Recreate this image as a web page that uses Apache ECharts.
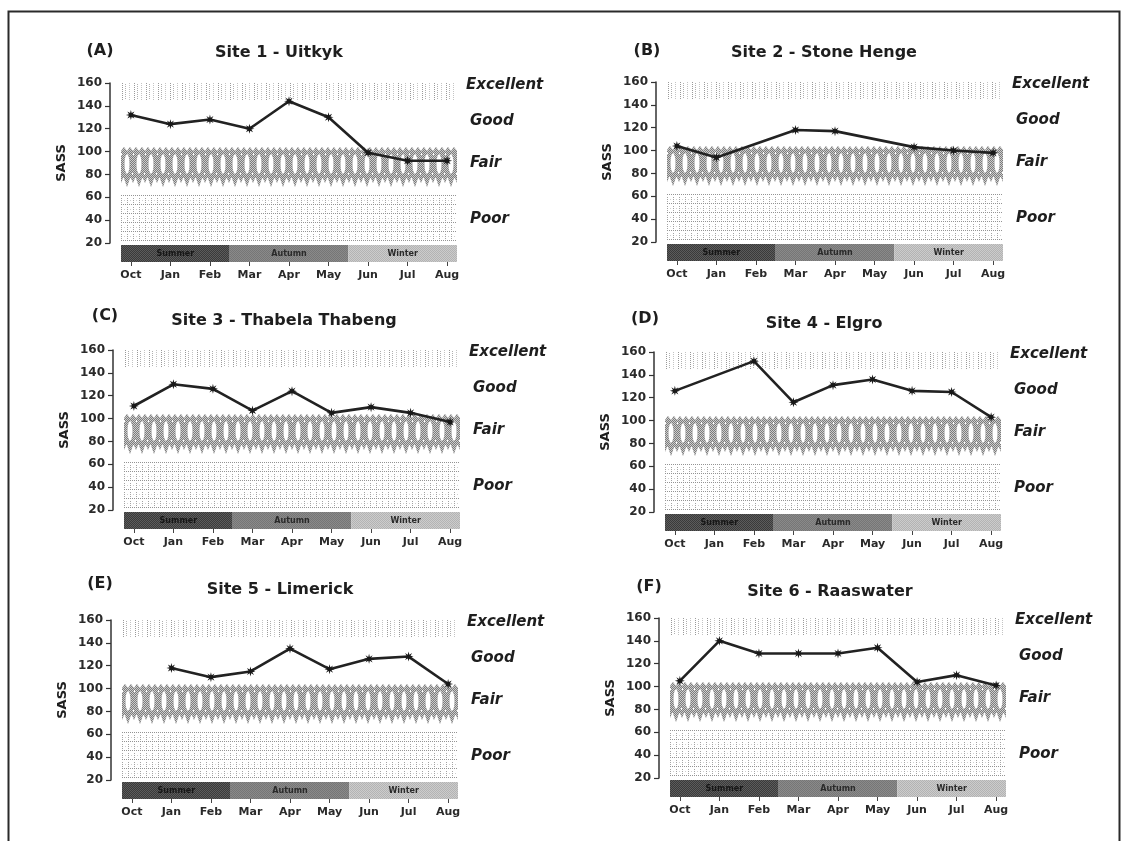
<!DOCTYPE html>
<html>
<head>
<meta charset="utf-8">
<script src="https://cdn.jsdelivr.net/npm/echarts@6/dist/echarts.min.js"></script>
<style>
  html, body { margin: 0; padding: 0; background: #fff; }
  #chart { width: 1129px; height: 841px; }
</style>
</head>
<body>
<div id="chart"></div>
<script>
// ---- data ----
const months = ['Oct', 'Jan', 'Feb', 'Mar', 'Apr', 'May', 'Jun', 'Jul', 'Aug'];
const panelLetters = ['(A)', '(B)', '(C)', '(D)', '(E)', '(F)'];
const siteNames = ['Site 1 - Uitkyk', 'Site 2 - Stone Henge', 'Site 3 - Thabela Thabeng',
                   'Site 4 - Elgro', 'Site 5 - Limerick', 'Site 6 - Raaswater'];
// SASS scores per month (null = no sample)
const site1 = [132, 124, 128, 120, 144, 130, 99, 92, 92];
const site2 = [104, 94, null, 118, 117, null, 103, 100, 98];
const site3 = [111, 130, 126, 107, 124, 105, 110, 105, 97];
const site4 = [126, null, 152, 116, 131, 136, 126, 125, 103];
const site5 = [null, 118, 110, 115, 135, 117, 126, 128, 104];
const site6 = [105, 140, 129, 129, 129, 134, 104, 110, 101];
const sites = [site1, site2, site3, site4, site5, site6];

// water-quality classes: band bottom / top in SASS units, and label height
const qualityNames = ['Poor', 'Fair', 'Good', 'Excellent'];
const qualityLow   = [21, 66, 105, 145];
const qualityHigh  = [62, 104, 140, 160];
const qualityLabelAt = [41, 90, 127, 158];

// seasons: first and last month index covered
const seasonNames = ['Summer', 'Autumn', 'Winter'];
const seasonFirst = [0, 3, 6];
const seasonLast  = [2, 5, 8];

// ---- layout ----
const panelPos = [
  { left: 121, top: 83,  titleX: 279, titleY: 45,  letterX: 100, letterY: 43 },
  { left: 667, top: 82,  titleX: 824, titleY: 45,  letterX: 647, letterY: 43 },
  { left: 124, top: 350, titleX: 284, titleY: 313, letterX: 105, letterY: 308 },
  { left: 665, top: 352, titleX: 824, titleY: 316, letterX: 645, letterY: 311 },
  { left: 122, top: 620, titleX: 280, titleY: 582, letterX: 100, letterY: 576 },
  { left: 670, top: 618, titleX: 830, titleY: 584, letterX: 649, letterY: 579 }
];
const PLOT_W = 336, PLOT_H = 160, BAR_GAP = 2, BAR_H = 17;
const FONT = '"DejaVu Sans", "Liberation Sans", sans-serif';
const INK = '#1e1e1e';

// ---- fill textures ----
function makeTile(w, h, draw) {
  const c = document.createElement('canvas');
  c.width = w; c.height = h;
  const g = c.getContext('2d');
  draw(g);
  return c;
}
function halftone(g, w, h, light) {
  const img = g.getImageData(0, 0, w, h);
  const d = img.data;
  for (let y = 0; y < h; y++) {
    for (let x = 0; x < w; x++) {
      const i = (y * w + x) * 4;
      if (d[i + 3] > 60 && (x + y) % 2 === 0) {
        d[i] = d[i + 1] = d[i + 2] = light; d[i + 3] = 255;
      }
    }
  }
  g.putImageData(img, 0, 0);
}
function dots(g, list, color) {
  g.fillStyle = color;
  list.forEach(p => g.fillRect(p[0], p[1], 1, 1));
}

// "Fair": columns of hatched hourglasses with white ovals
const fairTile = makeTile(12, 44, g => {
  g.fillStyle = '#7c7c7c';
  g.beginPath();
  g.moveTo(0, 4); g.lineTo(3, 0); g.lineTo(6, 4); g.lineTo(9, 0); g.lineTo(12, 4);
  g.lineTo(12, 31); g.lineTo(0, 31); g.closePath(); g.fill();
  g.globalCompositeOperation = 'destination-out';
  g.beginPath(); g.ellipse(6, 17, 2.6, 10, 0, 0, Math.PI * 2); g.fill();
  g.fillRect(0, 31, 12, 13);
  g.fillRect(0, 6, 1, 2); g.fillRect(11, 26, 1, 2);
  g.globalCompositeOperation = 'source-over';
  g.fillStyle = '#7c7c7c';
  g.beginPath(); g.moveTo(3, 31); g.lineTo(9, 31); g.lineTo(6, 40); g.closePath(); g.fill();
  g.beginPath(); g.moveTo(-2, 31); g.lineTo(2, 31); g.lineTo(0, 36); g.closePath(); g.fill();
  g.beginPath(); g.moveTo(10, 31); g.lineTo(14, 31); g.lineTo(12, 36); g.closePath(); g.fill();
  halftone(g, 12, 44, 205);
});
// "Excellent": sparse vertical dotted strokes
const excellentTile = makeTile(12, 4, g => {
  dots(g, [[1, 0], [1, 2]], '#9a9a9a');
  dots(g, [[4, 1], [4, 3]], '#b0b0b0');
  dots(g, [[8, 0], [8, 2]], '#c4c4c4');
});
// "Poor": dotted grid
const poorTile = makeTile(6, 9, g => {
  dots(g, [[0, 0], [2, 0], [4, 0]], '#949494');
  dots(g, [[0, 3], [0, 5], [0, 7]], '#a4a4a4');
  dots(g, [[3, 5]], '#d0d0d0');
});
const qualityTiles = [poorTile, fairTile, null, excellentTile];

function checker(a, b) {
  return makeTile(2, 2, g => {
    g.fillStyle = a; g.fillRect(0, 0, 2, 2);
    g.fillStyle = b; g.fillRect(0, 0, 1, 1); g.fillRect(1, 1, 1, 1);
  });
}
const seasonTiles = [checker('#3a3a3a', '#5c5c5c'), checker('#6c6c6c', '#949494'), checker('#9e9e9e', '#e2e2e2')];
const seasonTextColor = ['#161616', '#2a2a2a', '#2a2a2a'];

// asterisk-like star marker
const starPts = [];
for (let k = 0; k < 16; k++) {
  const r = k % 2 ? 2.5 : 6;
  const a = Math.PI * k / 8;
  starPts.push((r * Math.sin(a)).toFixed(2) + ',' + (-r * Math.cos(a)).toFixed(2));
}
const starSymbol = 'path://M' + starPts.join('L') + 'Z';

// ---- option ----
const grid = [], xAxis = [], yAxis = [], series = [], title = [];

panelPos.forEach((p, i) => {
  const gMain = i * 2, gBar = i * 2 + 1;
  grid.push({ left: p.left, top: p.top, width: PLOT_W, height: PLOT_H });
  grid.push({ left: p.left, top: p.top + PLOT_H + BAR_GAP, width: PLOT_W, height: BAR_H });

  title.push({
    text: panelLetters[i], left: p.letterX, top: p.letterY, textAlign: 'center', padding: 0,
    textStyle: { fontFamily: FONT, fontWeight: 'bold', fontSize: 16, color: INK }
  });
  title.push({
    text: siteNames[i], left: p.titleX, top: p.titleY, textAlign: 'center', padding: 0,
    textStyle: { fontFamily: FONT, fontWeight: 'bold', fontSize: 16, color: INK }
  });

  const monthIdx = months.map((m, k) => k);

  // main plot x (hidden) and season-bar x (month labels)
  xAxis.push({ gridIndex: gMain, type: 'value', min: -0.25, max: 8.25, show: false });
  xAxis.push({
    gridIndex: gBar, type: 'value', min: -0.25, max: 8.25, position: 'bottom',
    axisLine: { show: false, onZero: false },
    splitLine: { show: false },
    axisTick: { show: true, customValues: monthIdx, length: 4, lineStyle: { color: '#444', width: 1 } },
    axisLabel: {
      customValues: monthIdx, margin: 8,
      formatter: v => months[Math.round(v)],
      fontFamily: FONT, fontWeight: 'bold', fontSize: 11, color: '#2a2a2a'
    }
  });

  // SASS axis
  yAxis.push({
    gridIndex: gMain, type: 'value', min: 20, max: 160, interval: 20, position: 'left', offset: 11,
    name: 'SASS', nameLocation: 'middle', nameGap: 42,
    nameTextStyle: { fontFamily: FONT, fontWeight: 'bold', fontSize: 13, color: INK },
    axisLine: { show: true, onZero: false, lineStyle: { color: '#333', width: 1.5 } },
    axisTick: { show: true, length: 5, lineStyle: { color: '#333', width: 1.2 } },
    splitLine: { show: false },
    axisLabel: { margin: 8, fontFamily: FONT, fontWeight: 'bold', fontSize: 12, color: '#2a2a2a' }
  });
  // quality class names on the right
  yAxis.push({
    gridIndex: gMain, type: 'value', min: 20, max: 160, position: 'right',
    axisLine: { show: false, onZero: false }, axisTick: { show: false }, splitLine: { show: false },
    axisLabel: {
      customValues: qualityLabelAt, margin: 9,
      formatter: v => {
        const k = qualityLabelAt.indexOf(v);
        return k === 3 ? '{e|' + qualityNames[k] + '}' : '{o|' + qualityNames[k] + '}';
      },
      rich: {
        e: { fontFamily: FONT, fontWeight: 'bold', fontStyle: 'italic', fontSize: 15, color: INK },
        o: { fontFamily: FONT, fontWeight: 'bold', fontStyle: 'italic', fontSize: 15, color: INK, padding: [0, 0, 0, 4] }
      }
    }
  });
  yAxis.push({ gridIndex: gBar, type: 'value', min: 0, max: 1, show: false });

  // quality bands
  series.push({
    type: 'custom', xAxisIndex: gMain, yAxisIndex: i * 3, silent: true, z: 1,
    data: qualityNames.map((n, k) => [qualityLow[k], qualityHigh[k], k]),
    encode: { y: [0, 1] },
    renderItem: (params, api) => {
      const tile = qualityTiles[api.value(2)];
      if (!tile) return null;
      const cs = params.coordSys;
      const top = Math.round(api.coord([0, api.value(1)])[1]);
      const bot = Math.round(api.coord([0, api.value(0)])[1]);
      return {
        type: 'rect', x: cs.x, y: top,
        shape: { x: 0, y: 0, width: cs.width, height: bot - top },
        style: { fill: { image: tile, repeat: 'repeat' } }
      };
    }
  });

  // SASS line
  series.push({
    type: 'line', xAxisIndex: gMain, yAxisIndex: i * 3, z: 5,
    data: sites[i].map((v, k) => [k, v == null ? '-' : v]),
    connectNulls: true,
    symbol: starSymbol, symbolSize: 10,
    itemStyle: { color: '#181818' },
    lineStyle: { color: '#222', width: 2.6 }
  });

  // season bar
  series.push({
    type: 'custom', xAxisIndex: gBar, yAxisIndex: i * 3 + 2, silent: true,
    data: seasonNames.map((n, k) => [seasonFirst[k], seasonLast[k], k]),
    encode: { x: [0, 1] },
    renderItem: (params, api) => {
      const cs = params.coordSys;
      const k = api.value(2);
      let x0 = api.coord([api.value(0) - 0.5, 0])[0];
      let x1 = api.coord([api.value(1) + 0.5, 0])[0];
      x0 = Math.max(x0, cs.x); x1 = Math.min(x1, cs.x + cs.width);
      return {
        type: 'group',
        children: [
          { type: 'rect', x: x0, y: cs.y, shape: { x: 0, y: 0, width: x1 - x0, height: cs.height },
            style: { fill: { image: seasonTiles[k], repeat: 'repeat' } } },
          { type: 'text', x: (x0 + x1) / 2, y: cs.y + cs.height / 2,
            style: { text: seasonNames[k], fill: seasonTextColor[k], align: 'center', verticalAlign: 'middle',
                     font: 'bold 8px ' + FONT } }
        ]
      };
    }
  });
});

const chart = echarts.init(document.getElementById('chart'), null, { renderer: 'canvas' });
chart.setOption({
  animation: false,
  backgroundColor: '#fff',
  title, grid, xAxis, yAxis, series,
  graphic: [{
    type: 'rect', left: 6, top: 9, silent: true,
    shape: { width: 1111, height: 850 },
    style: { fill: null, stroke: '#2a2a2a', lineWidth: 2 }
  }]
});
</script>
</body>
</html>
